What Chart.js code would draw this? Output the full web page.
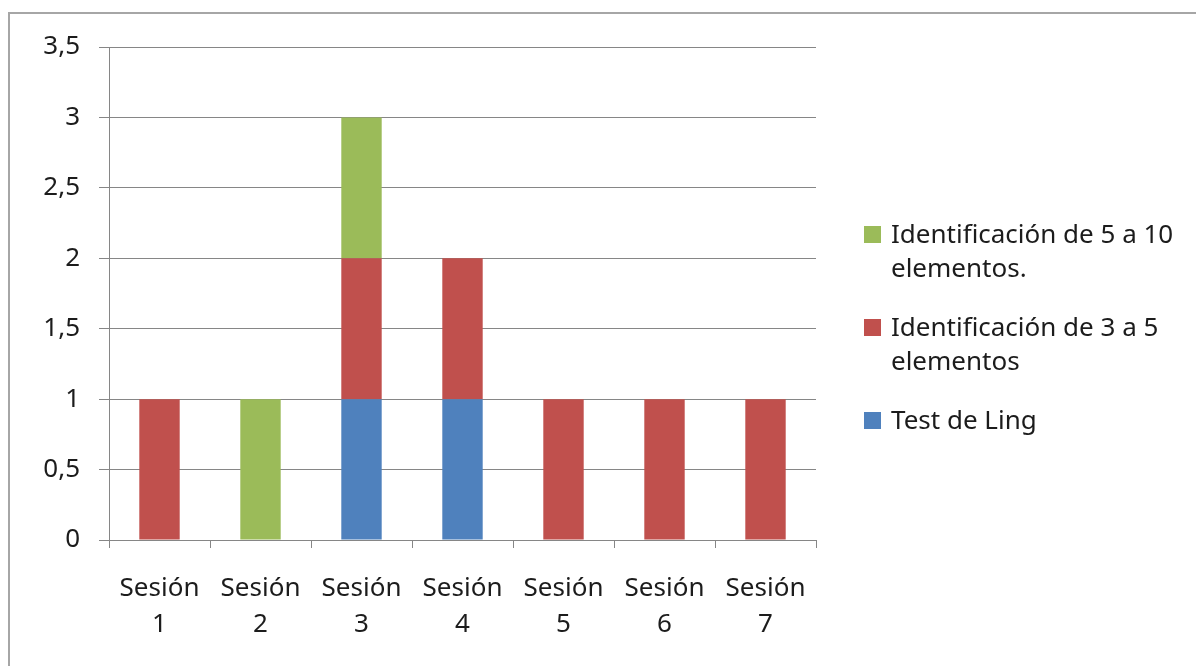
<!DOCTYPE html>
<html>
<head>
<meta charset="utf-8">
<script src="https://cdn.jsdelivr.net/npm/chart.js@4.4.1/dist/chart.umd.min.js"></script>
<style>
  html, body { margin: 0; padding: 0; background: #fff; }
  #wrap { position: relative; width: 1196px; height: 666px; overflow: hidden; }
  #frame {
    position: absolute; left: 8px; top: 12px; width: 1300px; height: 800px;
    border-left: 2px solid #a6a6a6; border-top: 2px solid #a6a6a6;
  }
  #chart { position: absolute; left: 0; top: 0; }
  #legend {
    position: absolute; left: 864px; top: 216px;
    font-family: 'Noto Sans', sans-serif; font-size: 26px; line-height: 34px; color: #1c1c1c;
  }
  #legend .item { position: relative; padding-left: 27px; margin-bottom: 25px; white-space: nowrap; }
  #legend .box { position: absolute; left: 0; top: 10px; width: 17px; height: 17px; }
</style>
</head>
<body>
<div id="wrap">
  <div id="frame"></div>
  <canvas id="chart" width="1196" height="666"></canvas>
  <div id="legend"></div>
</div>
<script>
// sesiones en el eje x
const sessions = [['Sesión', '1'], ['Sesión', '2'], ['Sesión', '3'], ['Sesión', '4'],
                  ['Sesión', '5'], ['Sesión', '6'], ['Sesión', '7']];

// series apiladas (de abajo hacia arriba)
const testLing = [0, 0, 1, 1, 0, 0, 0];
const ident3a5 = [1, 0, 1, 1, 1, 1, 1];
const ident5a10 = [0, 1, 1, 0, 0, 0, 0];

const seriesNames = ['Test de Ling', 'Identificación de 3 a 5 elementos', 'Identificación de 5 a 10 elementos.'];
const legendText = [['Test de Ling'],
                    ['Identificación de 3 a 5', 'elementos'],
                    ['Identificación de 5 a 10', 'elementos.']];
const colors = ['#4f81bd', '#c0504d', '#9bbb59'];

const yTicks = [0, 0.5, 1, 1.5, 2, 2.5, 3, 3.5];

const FONT = "'Noto Sans', sans-serif";
const GRID = '#868686';
const TEXT = '#1c1c1c';

const chart = new Chart(document.getElementById('chart').getContext('2d'), {
  type: 'bar',
  data: {
    labels: sessions,
    datasets: [testLing, ident3a5, ident5a10].map((d, i) => ({
      label: seriesNames[i],
      data: d,
      backgroundColor: colors[i],
      borderWidth: 0,
      barPercentage: 0.4,
      categoryPercentage: 1
    }))
  },
  options: {
    responsive: false,
    animation: false,
    layout: { padding: { left: 0, top: 47, right: 380, bottom: 0 } },
    plugins: {
      tooltip: { enabled: false },
      legend: { display: false }
    },
    scales: {
      x: {
        stacked: true,
        grid: { offset: true, drawOnChartArea: false, drawTicks: true, tickLength: 8, color: GRID },
        border: { color: GRID },
        ticks: { color: TEXT, padding: 22, maxRotation: 0, font: { family: FONT, size: 26, lineHeight: 1.4 } },
        afterFit(s) { s.height = 666 - 540; }
      },
      y: {
        stacked: true,
        min: 0,
        max: 3.5,
        grid: { color: GRID, tickLength: 10 },
        border: { color: GRID },
        afterBuildTicks(s) { s.ticks = yTicks.map(v => ({ value: v })); },
        ticks: {
          color: TEXT,
          padding: 19,
          font: { family: FONT, size: 26 },
          callback: v => String(v).replace('.', ',')
        },
        afterFit(s) { s.width = 109; }
      }
    }
  }
});

// leyenda a la derecha, la serie superior primero
const legend = document.getElementById('legend');
chart.data.datasets.map((ds, i) => i).reverse().forEach(i => {
  const item = document.createElement('div');
  item.className = 'item';
  const box = document.createElement('span');
  box.className = 'box';
  box.style.background = chart.data.datasets[i].backgroundColor;
  item.appendChild(box);
  legendText[i].forEach((line, k) => {
    if (k) item.appendChild(document.createElement('br'));
    item.appendChild(document.createTextNode(line));
  });
  legend.appendChild(item);
});
</script>
</body>
</html>
